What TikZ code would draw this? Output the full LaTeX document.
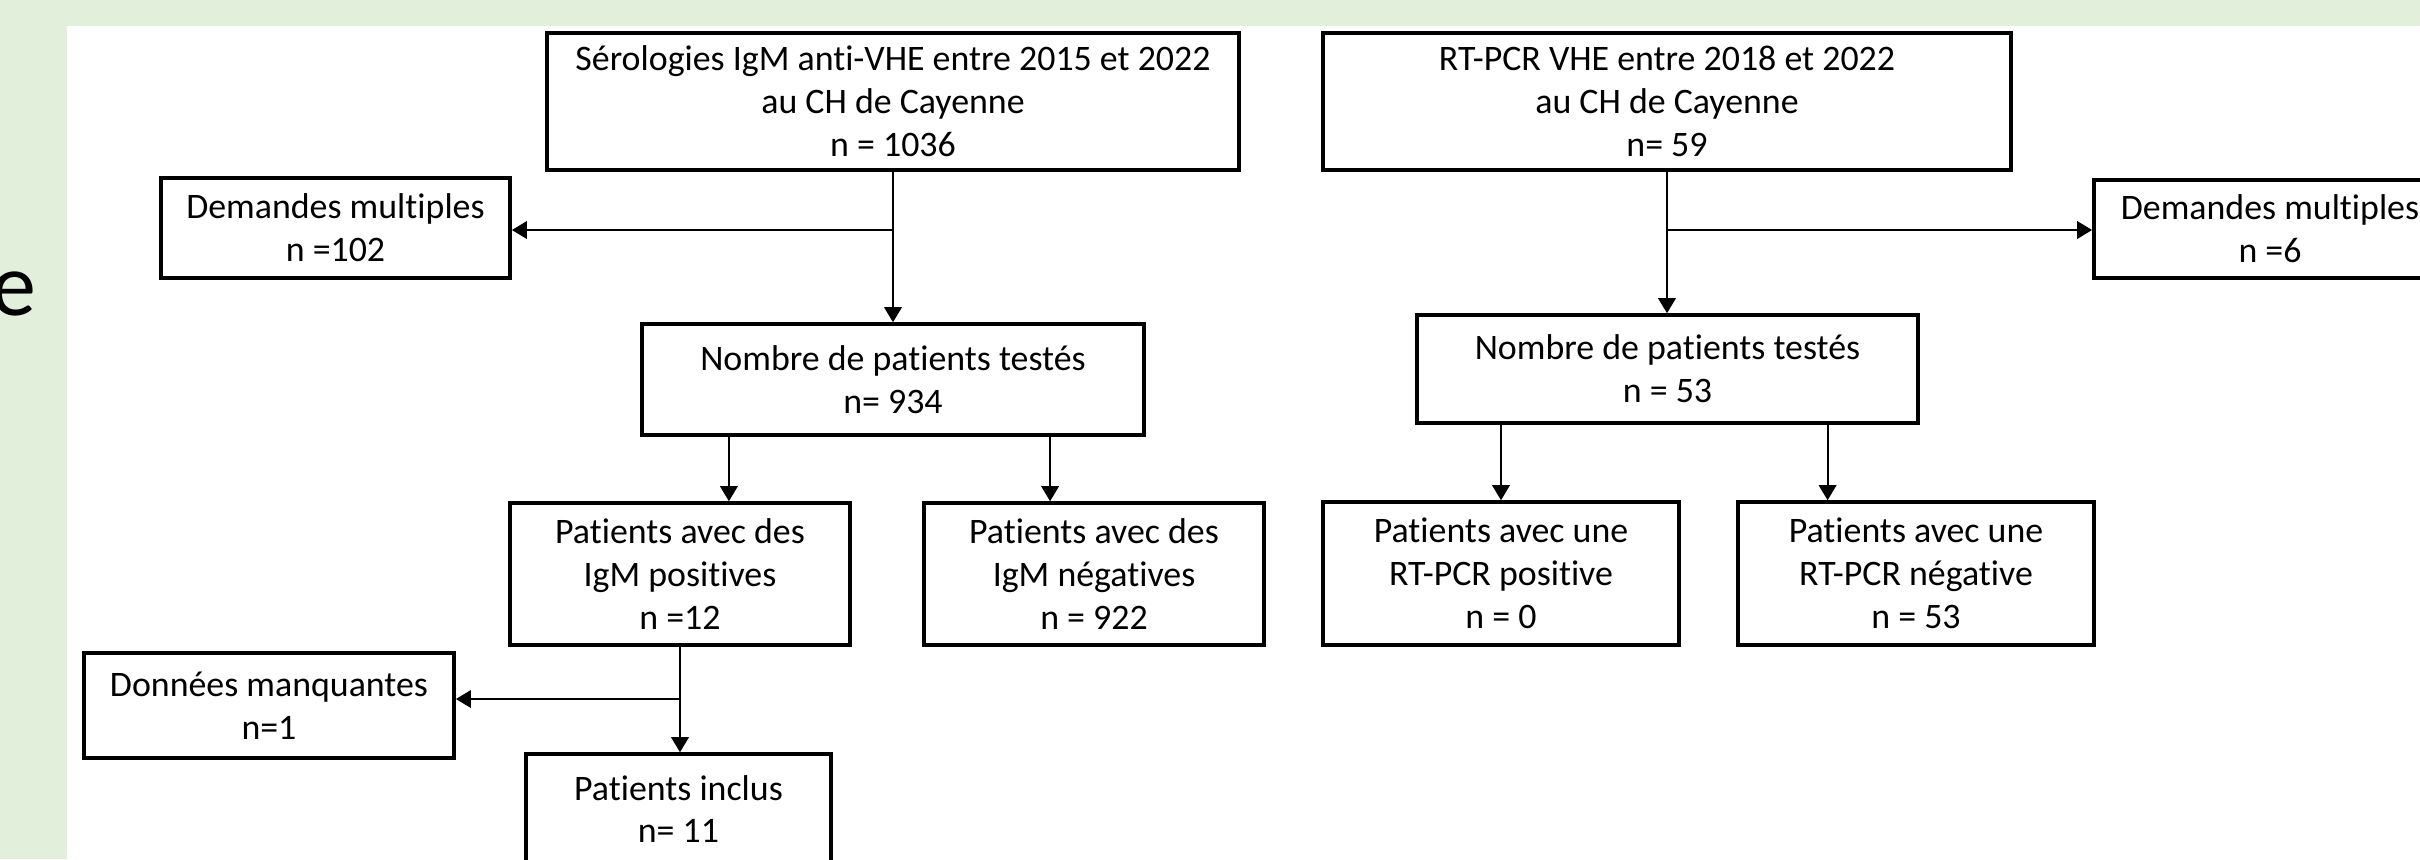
\documentclass[tikz,border=0pt]{standalone}
\usepackage{fontspec}
\setmainfont{Carlito}[Ligatures={NoCommon}]
\usepackage{tikz}
\usetikzlibrary{positioning,calc,arrows.meta}
\definecolor{fondvert}{HTML}{E2EFDA}
\tikzset{
    boite/.style={draw=black,line width=1pt,fill=white,align=center,inner sep=0pt,
        font=\fontsize{10.2pt}{12.2pt}\selectfont},
    fleche/.style={-{Triangle[length=4.3pt,width=5pt]},line width=0.6pt}
}
\begin{document}
\begin{tikzpicture}[x=0.01cm,y=-0.01cm]
    \useasboundingbox (0,0) rectangle (2420,859);
    \clip (0,0) rectangle (2420,859);
    \fill[fondvert] (0,0) rectangle (2420,859);
    \fill[white] (67,26) rectangle (2420,859);
    \node[anchor=base east,inner sep=0pt,font=\fontsize{25.6pt}{30pt}\selectfont] (lettre) at (37,315) {e};
    \node[boite,minimum width=6.92cm,minimum height=1.37cm] (sero) at (893,101.5) {Sérologies IgM anti-VHE entre 2015 et 2022\\au CH de Cayenne\\n = 1036};
    \node[boite,minimum width=6.88cm,minimum height=1.37cm] (rtpcr) at (1667,101.5) {RT-PCR VHE entre 2018 et 2022\\au CH de Cayenne\\n= 59};
    \node[boite,minimum width=3.49cm,minimum height=1.00cm] (dmL) at (335.5,228) {Demandes multiples\\n =102};
    \node[boite,minimum width=3.52cm,minimum height=0.98cm] (dmR) at (2270,229) {Demandes multiples\\n =6};
    \node[boite,minimum width=5.02cm,minimum height=1.11cm] (nbL) at (893,379.5) {Nombre de patients testés\\n= 934};
    \node[boite,minimum width=5.01cm,minimum height=1.08cm] (nbR) at (1667.5,369) {Nombre de patients testés\\n = 53};
    \node[boite,minimum width=3.40cm,minimum height=1.42cm] (posL) at (680,574) {Patients avec des\\IgM positives\\n =12};
    \node[boite,minimum width=3.40cm,minimum height=1.42cm] (negL) at (1094,574) {Patients avec des\\IgM négatives\\n = 922};
    \node[boite,minimum width=3.56cm,minimum height=1.43cm] (posR) at (1501,573.5) {Patients avec une\\RT-PCR positive\\n = 0};
    \node[boite,minimum width=3.56cm,minimum height=1.43cm] (negR) at (1916,573.5) {Patients avec une\\RT-PCR négative\\n = 53};
    \node[boite,minimum width=3.70cm,minimum height=1.05cm] (manq) at (269,705.5) {Données manquantes\\n=1};
    \node[boite,minimum width=3.05cm,minimum height=1.10cm] (incl) at (678.5,809) {Patients inclus\\n= 11};
    \coordinate (jsero) at (893,230);
    \coordinate (jrt) at (1667.5,230);
    \coordinate (jpos) at (680,699);
    \draw[fleche] (sero.south) -- (sero.south |- nbL.north);
    \draw[fleche] (jsero) -- (jsero -| dmL.east);
    \draw[fleche] (rtpcr.south) -- (rtpcr.south |- nbR.north);
    \draw[fleche] (jrt) -- (jrt -| dmR.west);
    \draw[fleche] ([xshift=-1.64cm]nbL.south) -- ([xshift=-1.64cm]nbL.south |- posL.north);
    \draw[fleche] ([xshift=1.57cm]nbL.south) -- ([xshift=1.57cm]nbL.south |- negL.north);
    \draw[fleche] (nbR.south -| posR.north) -- (posR.north);
    \draw[fleche] ([xshift=1.6cm]nbR.south) -- ([xshift=1.6cm]nbR.south |- negR.north);
    \draw[fleche] (posL.south) -- (posL.south |- incl.north);
    \draw[fleche] (jpos) -- (jpos -| manq.east);
\end{tikzpicture}
\end{document}
